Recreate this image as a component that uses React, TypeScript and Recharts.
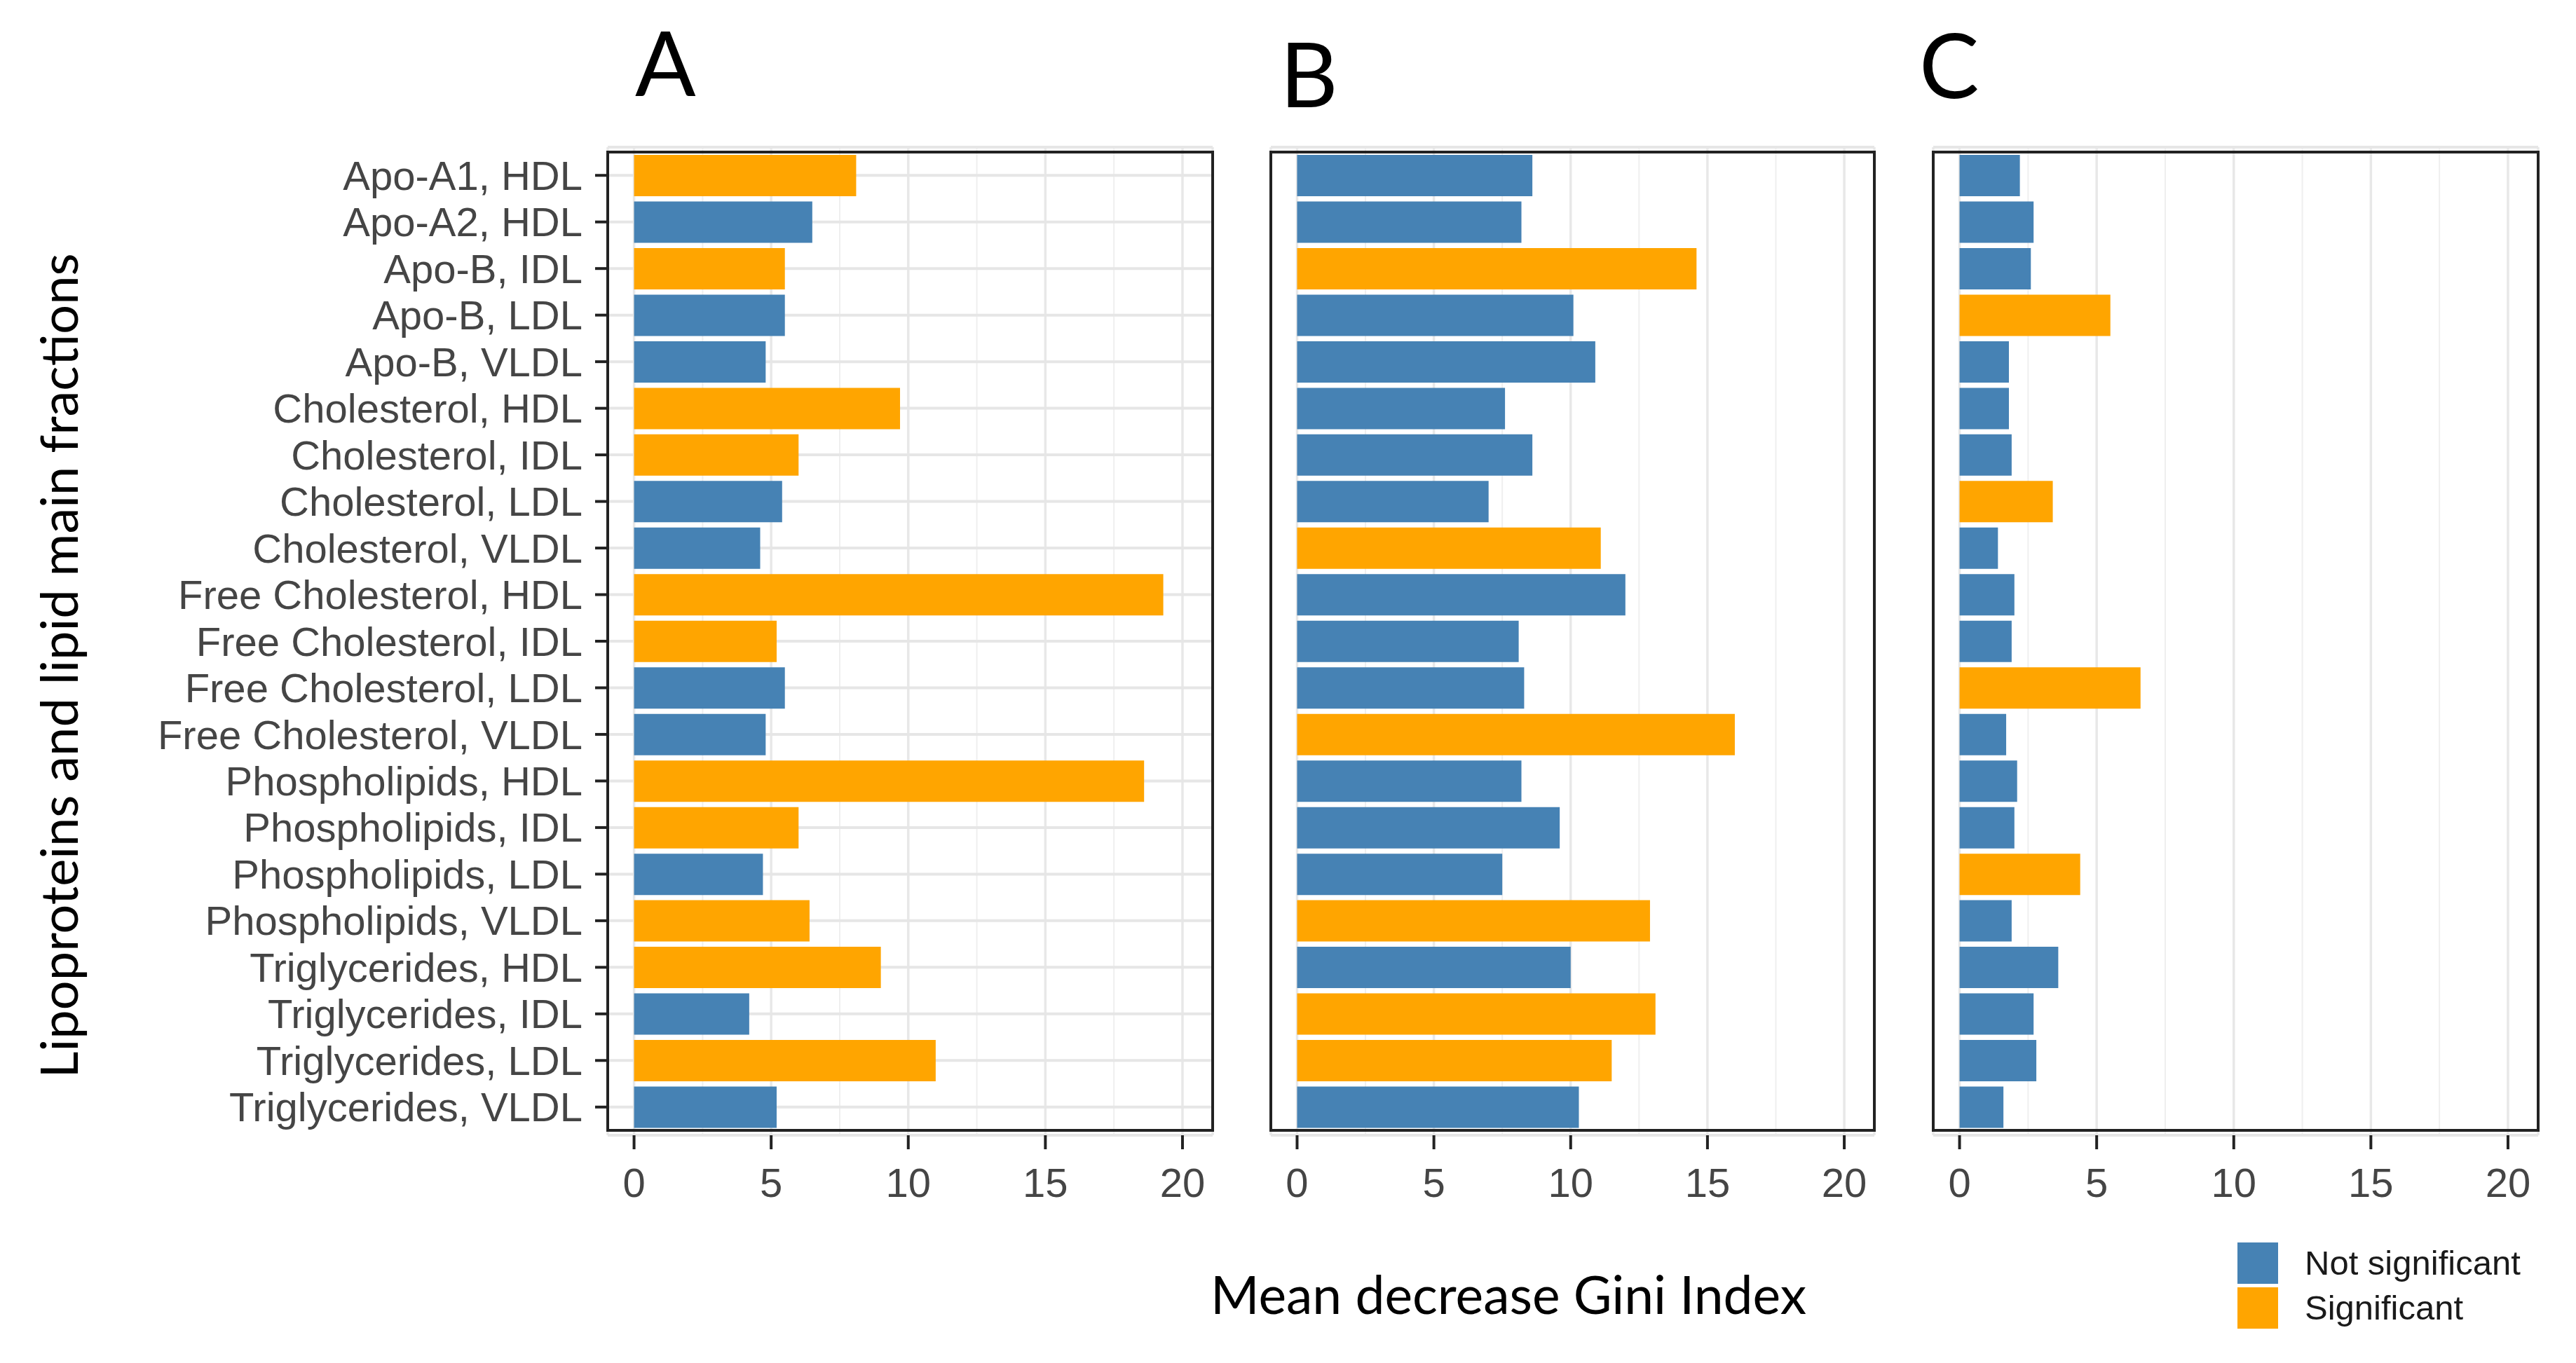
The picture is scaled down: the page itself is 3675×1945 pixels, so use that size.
import React from 'react';
import { BarChart, Bar, XAxis, YAxis, CartesianGrid, Cell, ReferenceArea } from 'recharts';

// lipoprotein fractions, top to bottom
const fractions = [
  'Apo-A1, HDL', 'Apo-A2, HDL', 'Apo-B, IDL', 'Apo-B, LDL', 'Apo-B, VLDL',
  'Cholesterol, HDL', 'Cholesterol, IDL', 'Cholesterol, LDL', 'Cholesterol, VLDL',
  'Free Cholesterol, HDL', 'Free Cholesterol, IDL', 'Free Cholesterol, LDL', 'Free Cholesterol, VLDL',
  'Phospholipids, HDL', 'Phospholipids, IDL', 'Phospholipids, LDL', 'Phospholipids, VLDL',
  'Triglycerides, HDL', 'Triglycerides, IDL', 'Triglycerides, LDL', 'Triglycerides, VLDL',
];

// mean decrease Gini per panel
const giniA = [8.1, 6.5, 5.5, 5.5, 4.8, 9.7, 6.0, 5.4, 4.6, 19.3, 5.2, 5.5, 4.8, 18.6, 6.0, 4.7, 6.4, 9.0, 4.2, 11.0, 5.2];
const giniB = [8.6, 8.2, 14.6, 10.1, 10.9, 7.6, 8.6, 7.0, 11.1, 12.0, 8.1, 8.3, 16.0, 8.2, 9.6, 7.5, 12.9, 10.0, 13.1, 11.5, 10.3];
const giniC = [2.2, 2.7, 2.6, 5.5, 1.8, 1.8, 1.9, 3.4, 1.4, 2.0, 1.9, 6.6, 1.7, 2.1, 2.0, 4.4, 1.9, 3.6, 2.7, 2.8, 1.6];

// 1 = significant, 0 = not significant
const sigA = [1, 0, 1, 0, 0, 1, 1, 0, 0, 1, 1, 0, 0, 1, 1, 0, 1, 1, 0, 1, 0];
const sigB = [0, 0, 1, 0, 0, 0, 0, 0, 1, 0, 0, 0, 1, 0, 0, 0, 1, 0, 1, 1, 0];
const sigC = [0, 0, 0, 1, 0, 0, 0, 1, 0, 0, 0, 1, 0, 0, 0, 1, 0, 0, 0, 0, 0];

const xTicks = [0, 5, 10, 15, 20];
const minorTicks = [2.5, 7.5, 12.5, 17.5];
const legendLabels = ['Not significant', 'Significant'];

const BLUE = '#4682b4';
const ORANGE = '#ffa500';
const DOMAIN: [number, number] = [-0.96, 21.1];

const tickFont = { fontFamily: '"Liberation Sans", Arial, sans-serif', fontSize: 58, fill: '#454545' };
const titleFont = '"Lato", "Open Sans", sans-serif';

interface PanelProps {
  values: number[];
  sig: number[];
  left: number;
  axisWidth: number;
  plotWidth: number;
  showLabels: boolean;
}

const Panel = ({ values, sig, left, axisWidth, plotWidth, showLabels }: PanelProps) => {
  const data = fractions.map((name, i) => ({ name, value: values[i], sig: sig[i] }));
  const width = axisWidth + plotWidth + 20;

  const minorGen = ({ xAxis, offset }: any) => {
    if (xAxis && typeof xAxis.scale === 'function') return minorTicks.map((v) => xAxis.scale(v));
    return minorTicks.map((v) => offset.left + ((v - DOMAIN[0]) / (DOMAIN[1] - DOMAIN[0])) * offset.width);
  };

  return (
    <div style={{ position: 'absolute', left, top: 0 }}>
      <BarChart
        width={width}
        height={1720}
        data={data}
        layout="vertical"
        margin={{ top: 210, right: 20, bottom: 0, left: 0 }}
        barSize={59}
      >
        <CartesianGrid horizontal={false} vertical verticalCoordinatesGenerator={minorGen} stroke="#efefef" strokeWidth={2} />
        <CartesianGrid horizontal={false} vertical stroke="#e8e8e8" strokeWidth={3.5} />
        <CartesianGrid horizontal vertical={false} stroke="#e6e6e6" strokeWidth={4} />
        <XAxis
          type="number"
          domain={DOMAIN}
          allowDataOverflow
          ticks={xTicks}
          interval={0}
          height={100}
          axisLine={false}
          tickSize={20}
          tickMargin={27}
          tickLine={{ stroke: '#222222', strokeWidth: 4 }}
          tick={tickFont}
        />
        <YAxis
          type="category"
          dataKey="name"
          width={axisWidth}
          interval={0}
          padding={{ top: 7, bottom: 7 }}
          axisLine={false}
          tickSize={18}
          tickMargin={18}
          tickLine={{ stroke: '#222222', strokeWidth: 4 }}
          tick={showLabels ? tickFont : false}
        />
        <Bar dataKey="value" isAnimationActive={false}>
          {data.map((d, i) => (
            <Cell key={`c-${i}`} fill={d.sig ? ORANGE : BLUE} />
          ))}
        </Bar>
        <ReferenceArea x1={DOMAIN[0]} x2={DOMAIN[1]} fill="none" stroke="#222222" strokeWidth={4} ifOverflow="visible" />
      </BarChart>
    </div>
  );
};

const letterStyle: React.CSSProperties = {
  position: 'absolute',
  fontFamily: titleFont,
  fontSize: 128,
  lineHeight: 1,
  color: '#000',
};

export default function App() {
  return (
    <div style={{ position: 'absolute', left: 0, top: 0, width: 3675, height: 1945, background: '#fff', overflow: 'hidden' }}>
      <Panel values={giniA} sig={sigA} left={0} axisWidth={867} plotWidth={863} showLabels />
      <Panel values={giniB} sig={sigB} left={1773} axisWidth={40} plotWidth={861} showLabels={false} />
      <Panel values={giniC} sig={sigC} left={2718} axisWidth={40} plotWidth={863} showLabels={false} />

      <div style={{ ...letterStyle, left: 906, top: 24 }}>A</div>
      <div style={{ ...letterStyle, left: 1826, top: 40 }}>B</div>
      <div style={{ ...letterStyle, left: 2738, top: 27 }}>C</div>

      <div
        style={{
          position: 'absolute',
          left: 82,
          top: 950,
          transform: 'translate(-50%, -50%) rotate(-90deg)',
          whiteSpace: 'nowrap',
          fontFamily: titleFont,
          fontSize: 74,
          color: '#000',
        }}
      >
        Lipoproteins and lipid main fractions
      </div>

      <div
        style={{
          position: 'absolute',
          left: 2152,
          top: 1846,
          transform: 'translate(-50%, -50%)',
          whiteSpace: 'nowrap',
          fontFamily: titleFont,
          fontSize: 75,
          color: '#000',
        }}
      >
        Mean decrease Gini Index
      </div>

      <div style={{ position: 'absolute', left: 3192, top: 1770 }}>
        {legendLabels.map((label, i) => (
          <div key={label} style={{ display: 'flex', alignItems: 'center', height: 64 }}>
            <div style={{ width: 58, height: 59, background: i === 0 ? BLUE : ORANGE }} />
            <span
              style={{
                marginLeft: 38,
                fontFamily: '"Liberation Sans", Arial, sans-serif',
                fontSize: 49,
                color: '#1a1a1a',
              }}
            >
              {label}
            </span>
          </div>
        ))}
      </div>
    </div>
  );
}
